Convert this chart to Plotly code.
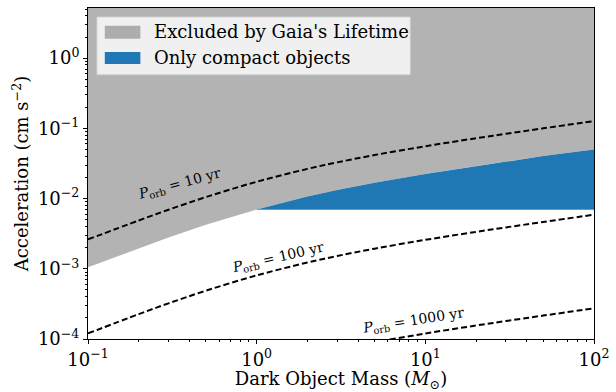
import plotly.graph_objects as go

# Dark object mass grid (solar masses)
masses = [0.1, 0.2, 0.3, 0.5, 1, 2, 3, 5, 10, 20, 30, 50, 100]
# Acceleration (cm s^-2) along constant orbital period curves
acc_10yr = [2.62e-3, 4.88e-3, 6.93e-3, 1.050e-2, 1.734e-2, 2.646e-2, 3.275e-2,
            4.168e-2, 5.563e-2, 7.23e-2, 8.36e-2, 0.1000, 0.1269]
acc_100yr = [1.20e-4, 2.265e-4, 3.217e-4, 4.874e-4, 8.05e-4, 1.228e-3, 1.520e-3,
             1.935e-3, 2.582e-3, 3.356e-3, 3.881e-3, 4.642e-3, 5.891e-3]
acc_1000yr = [5.56e-6, 1.051e-5, 1.493e-5, 2.262e-5, 3.735e-5, 5.70e-5, 7.055e-5,
              8.98e-5, 1.198e-4, 1.557e-4, 1.801e-4, 2.154e-4, 2.734e-4]
# Lower edge of the region excluded by Gaia's lifetime
gaia_edge = [1.05e-3, 1.965e-3, 2.79e-3, 4.23e-3, 7.0e-3, 1.066e-2, 1.319e-2,
             1.678e-2, 2.24e-2, 2.91e-2, 3.37e-2, 4.03e-2, 5.0e-2]
# Compact-object-only floor
compact_floor = 7.0e-3
compact_min_mass = 1
ceiling = 100.0

period_labels = ["10 yr", "100 yr", "1000 yr"]
x_ticks = [0.1, 1, 10, 100]
x_ticktext = ["10<sup>−1</sup>", "10<sup>0</sup>", "10<sup>1</sup>", "10<sup>2</sup>"]
y_ticks = [1e-4, 1e-3, 1e-2, 1e-1, 1]
y_ticktext = ["10<sup>−4</sup>", "10<sup>−3</sup>", "10<sup>−2</sup>", "10<sup>−1</sup>", "10<sup>0</sup>"]
legend_labels = ["Excluded by Gaia's Lifetime", "Only compact objects"]

GRAY = "rgba(128,128,128,0.6)"
BLUE = "#1f77b4"
FONT = "DejaVu Serif, Liberation Serif, serif"

fig = go.Figure()

# gray excluded region
fig.add_trace(go.Scatter(x=masses, y=[ceiling] * len(masses), mode="lines",
                         line=dict(width=0), showlegend=False, hoverinfo="skip"))
fig.add_trace(go.Scatter(x=masses, y=gaia_edge, mode="lines", line=dict(width=0),
                         fill="tonexty", fillcolor=GRAY, showlegend=False))

# blue compact-only region
cm = [m for m in masses if m >= compact_min_mass]
ce = [g for m, g in zip(masses, gaia_edge) if m >= compact_min_mass]
fig.add_trace(go.Scatter(x=cm, y=[compact_floor] * len(cm), mode="lines",
                         line=dict(width=1, color="#5d9fd0"), showlegend=False))
fig.add_trace(go.Scatter(x=cm, y=ce, mode="lines", line=dict(width=0),
                         fill="tonexty", fillcolor=BLUE, showlegend=False))

for series in (acc_10yr, acc_100yr, acc_1000yr):
    fig.add_trace(go.Scatter(x=masses, y=series, mode="lines", line_shape="spline",
                             line=dict(color="black", width=2, dash="6px,3px"),
                             showlegend=False))

# period labels
label_pos = [(-0.455, -1.79, -15), (0.125, -2.84, -13), (0.927, -3.75, -9)]
for lab, (lx, ly, ang) in zip(period_labels, label_pos):
    fig.add_annotation(x=lx, y=ly, xref="x", yref="y", showarrow=False,
                       text="<i>P</i><sub>orb</sub> = " + lab, textangle=ang,
                       font=dict(family=FONT, size=14, color="black"))

# manual legend
fig.add_shape(type="rect", xref="paper", yref="paper", x0=0.0176, x1=0.637,
              y0=0.798, y1=0.973, fillcolor="rgba(255,255,255,0.8)",
              line=dict(color="rgba(204,204,204,0.9)", width=1))
patches = [(0.946, 0.907, GRAY), (0.867, 0.831, BLUE)]
for (p1, p0, col), lab, ty in zip(patches, legend_labels, [0.928, 0.849]):
    fig.add_shape(type="rect", xref="paper", yref="paper", x0=0.0332, x1=0.1035,
                  y0=p0, y1=p1, fillcolor=col, line=dict(width=0))
    fig.add_annotation(x=0.127, y=ty, xref="paper", yref="paper", showarrow=False,
                       xanchor="left", yanchor="middle", text=lab,
                       font=dict(family=FONT, size=18, color="black"))

axis_common = dict(showline=True, linecolor="black", linewidth=1, mirror=True,
                   ticks="outside", ticklen=4, tickcolor="black", showgrid=False,
                   zeroline=False, tickfont=dict(family=FONT, size=18, color="black"))

xminor = [k * 10 ** e for e in (-1, 0, 1) for k in range(2, 10)]
yminor = [k * 10 ** e for e in (-4, -3, -2, -1, 0) for k in range(2, 10)]

fig.update_xaxes(type="log", range=[-1, 2], tickvals=x_ticks, ticktext=x_ticktext,
                 title=dict(text="Dark Object Mass (<i>M</i><sub>⊙</sub>)",
                            font=dict(family=FONT, size=18, color="black"), standoff=2),
                 minor=dict(tickvals=xminor, ticks="outside", ticklen=2, tickcolor="black"),
                 **axis_common)
fig.update_yaxes(type="log", range=[-4, 0.714], tickvals=y_ticks, ticktext=y_ticktext,
                 title=dict(text="Acceleration (cm s<sup>−2</sup>)",
                            font=dict(family=FONT, size=18, color="black"), standoff=4),
                 minor=dict(tickvals=yminor, ticks="outside", ticklen=2, tickcolor="black"),
                 **axis_common)

fig.update_layout(width=616, height=392, margin=dict(l=88, r=16, t=7, b=53),
                  paper_bgcolor="white", plot_bgcolor="white", showlegend=False)

fig.write_html("out.html")
